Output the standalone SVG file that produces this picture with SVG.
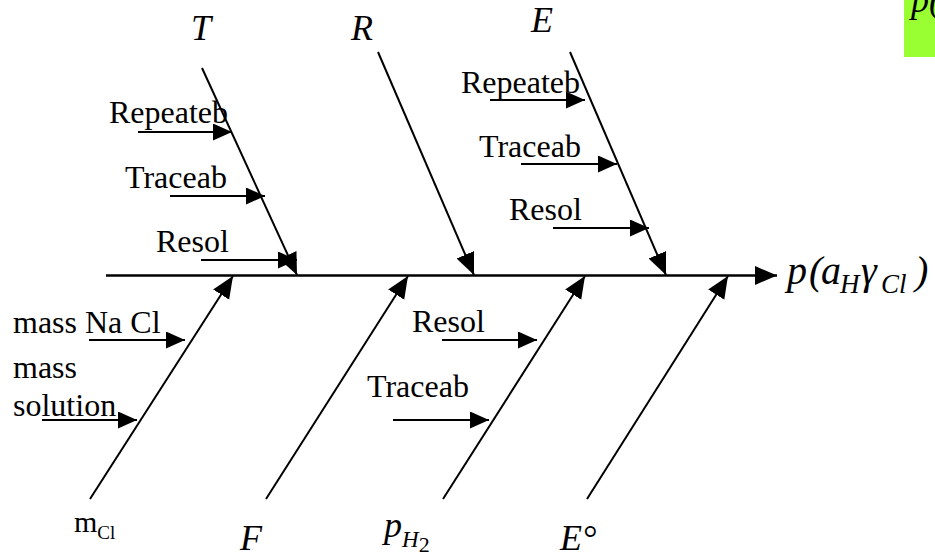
<svg xmlns="http://www.w3.org/2000/svg" width="935" height="557" viewBox="0 0 935 557">
  <style>
    .ln { stroke: #000; stroke-width: 2; fill: none; }
    .sp { stroke: #000; stroke-width: 2.6; fill: none; }
    .sub { marker-end: url(#ah); }
    .br { marker-end: url(#ahb); }
    .t { font-family: "Liberation Serif", "Times New Roman", serif; font-size: 32px; fill: #000; }
    .it { font-family: "Liberation Serif", "Times New Roman", serif; font-style: italic; font-size: 36px; fill: #000; }
    .ef { font-family: "Liberation Serif", "Times New Roman", serif; font-style: italic; font-size: 40px; fill: #000; }
    .es { font-size: 27px; }
  </style>
  <defs>
    <marker id="ah" markerUnits="userSpaceOnUse" markerWidth="20" markerHeight="18" refX="19" refY="8.5" orient="auto">
      <path d="M0,0 L19,8.5 L0,17 z" fill="#000"/>
    </marker>
    <marker id="ahb" markerUnits="userSpaceOnUse" markerWidth="23" markerHeight="20" refX="22" refY="9.5" orient="auto">
      <path d="M0,0 L22,9.5 L0,19 z" fill="#000"/>
    </marker>
  </defs>
  <rect width="935" height="557" fill="#fff"/>

  <g id="effect-box">
    <rect x="904" y="0" width="31" height="57" fill="#99ff33"/>
    <text class="it" x="911" y="12">p(</text>
  </g>

  <g id="connectors">
    <line class="sp br" x1="106" y1="275.5" x2="777" y2="275.5"/>
    <!-- top branches -->
    <line class="ln br" x1="202" y1="68" x2="297" y2="275"/>
    <line class="ln br" x1="378" y1="52" x2="474" y2="275"/>
    <line class="ln br" x1="570" y1="52" x2="666" y2="275"/>
    <!-- bottom branches -->
    <line class="ln br" x1="90" y1="499" x2="233" y2="276"/>
    <line class="ln br" x1="266" y1="499" x2="408" y2="276"/>
    <line class="ln br" x1="443" y1="499" x2="585" y2="276"/>
    <line class="ln br" x1="587" y1="499" x2="728" y2="276"/>
    <!-- T sub-causes -->
    <line class="ln sub" x1="138" y1="132" x2="232" y2="132"/>
    <line class="ln sub" x1="170" y1="196" x2="265" y2="196"/>
    <line class="ln sub" x1="201" y1="260" x2="297" y2="260"/>
    <!-- E sub-causes -->
    <line class="ln sub" x1="490" y1="100" x2="585" y2="100"/>
    <line class="ln sub" x1="521" y1="164" x2="617" y2="164"/>
    <line class="ln sub" x1="553" y1="228" x2="649" y2="228"/>
    <!-- m_Cl sub-causes -->
    <line class="ln sub" x1="89" y1="340" x2="185" y2="340"/>
    <line class="ln sub" x1="42" y1="420" x2="137" y2="420"/>
    <!-- p_H2 sub-causes -->
    <line class="ln sub" x1="442" y1="340" x2="537" y2="340"/>
    <line class="ln sub" x1="393" y1="420" x2="489" y2="420"/>
  </g>

  <g id="node-T">
    <text class="it" x="191" y="40">T</text>
    <text class="t" x="109" y="123">Repeateb</text>
    <text class="t" x="125" y="188">Traceab</text>
    <text class="t" x="156" y="252">Resol</text>
  </g>
  <g id="node-R">
    <text class="it" x="351" y="40">R</text>
  </g>
  <g id="node-E">
    <text class="it" x="531" y="32">E</text>
    <text class="t" x="461" y="93">Repeateb</text>
    <text class="t" x="479" y="157">Traceab</text>
    <text class="t" x="509" y="220">Resol</text>
  </g>
  <g id="node-mCl">
    <text class="t" x="74" y="532" style="font-size:30px">m<tspan dy="7" style="font-size:19px">Cl</tspan></text>
    <text class="t" x="13" y="333">mass Na Cl</text>
    <text class="t" x="13" y="378">mass</text>
    <text class="t" x="13" y="416">solution</text>
  </g>
  <g id="node-F">
    <text class="it" x="240" y="550">F</text>
  </g>
  <g id="node-pH2">
    <text class="it" x="384" y="537">p<tspan dy="10" style="font-size:23px">H</tspan><tspan dy="5" style="font-size:22px;font-style:normal">2</tspan></text>
    <text class="t" x="412" y="332">Resol</text>
    <text class="t" x="367" y="397">Traceab</text>
  </g>
  <g id="node-E0">
    <text class="it" x="560" y="550">E°</text>
  </g>
  <g id="node-effect">
    <text class="ef" x="787" y="284">p<tspan x="809">(</tspan><tspan x="821">a</tspan><tspan class="es" x="840" dy="9">H</tspan><tspan x="861" dy="-9">γ</tspan><tspan class="es" x="881" dy="9">C</tspan><tspan class="es" x="899">l</tspan><tspan x="915" dy="-9">)</tspan></text>
  </g>
</svg>
